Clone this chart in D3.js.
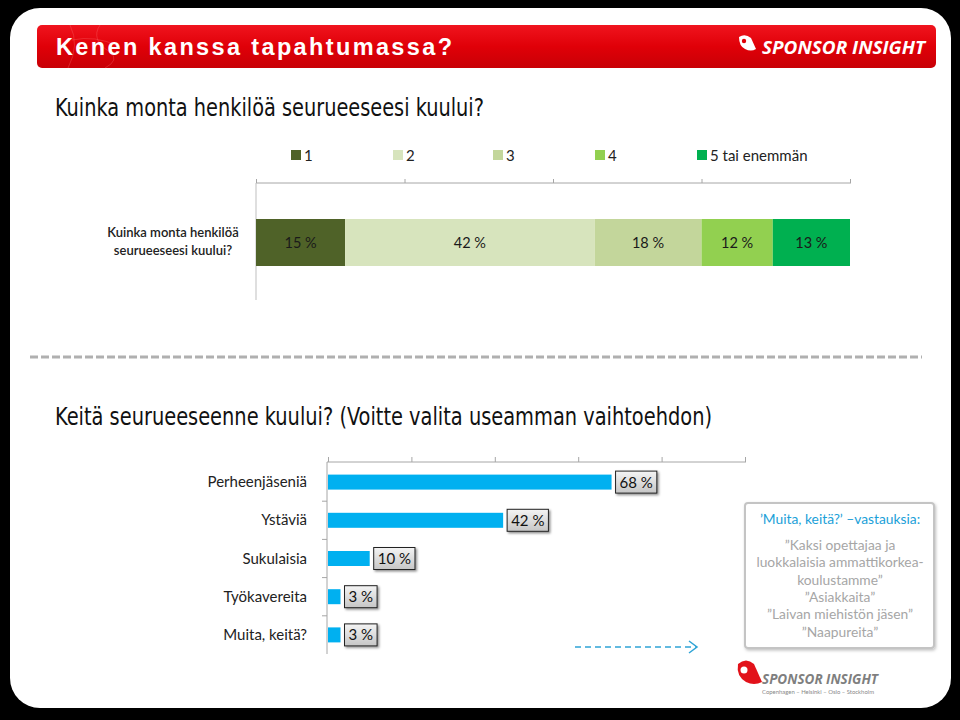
<!DOCTYPE html>
<html>
<head>
<meta charset="utf-8">
<script src="https://cdn.jsdelivr.net/npm/d3@7"></script>
<style>
html,body{margin:0;padding:0;background:#000;}
svg{display:block;}
</style>
</head>
<body>
<div id="chart"></div>
<script>
// ---------- DATA ----------
const pageTitle = "Kenen kanssa tapahtumassa?";
const brandName = "SPONSOR INSIGHT";
const brandCities = "Copenhagen – Helsinki – Oslo – Stockholm";

const q1Title = "Kuinka monta henkilöä seurueeseesi kuului?";
const q1RowLabel = ["Kuinka monta henkilöä", "seurueeseesi kuului?"];
const groupCategories = ["1", "2", "3", "4", "5 tai enemmän"];
const groupValues = [15, 42, 18, 12, 13];
const groupColors = ["#4f6228", "#d7e4bd", "#c3d69b", "#92d050", "#00b050"];
const groupTicks = [0, 25, 50, 75, 100];

const q2Title = "Keitä seurueeseenne kuului? (Voitte valita useamman vaihtoehdon)";
const companyCategories = ["Perheenjäseniä", "Ystäviä", "Sukulaisia", "Työkavereita", "Muita, keitä?"];
const companyValues = [68, 42, 10, 3, 3];
const companyTicks = [0, 20, 40, 60, 80, 100];

const otherTitle = "’Muita, keitä?’ –vastauksia:";
const otherAnswers = ["”Kaksi opettajaa ja", "luokkalaisia ammattikorkea-", "koulustamme”", "”Asiakkaita”", "”Laivan miehistön jäsen”", "”Naapureita”"];

// ---------- SETUP ----------
const W = 960, H = 720;
const svg = d3.select("#chart").append("svg").attr("width", W).attr("height", H);
const defs = svg.append("defs");
const bodyFont = "Lato, 'Open Sans', sans-serif";
const narrowFont = "'Liberation Sans Narrow', 'DejaVu Sans Condensed', 'Liberation Sans', sans-serif";

const redGrad = defs.append("linearGradient").attr("id", "redGrad").attr("x1", 0).attr("y1", 0).attr("x2", 0).attr("y2", 1);
redGrad.append("stop").attr("offset", 0).attr("stop-color", "#f0141e");
redGrad.append("stop").attr("offset", 0.5).attr("stop-color", "#e00008");
redGrad.append("stop").attr("offset", 1).attr("stop-color", "#c80006");

const boxGrad = defs.append("linearGradient").attr("id", "boxGrad").attr("x1", 0).attr("y1", 0).attr("x2", 0).attr("y2", 1);
boxGrad.append("stop").attr("offset", 0).attr("stop-color", "#f4f4f4");
boxGrad.append("stop").attr("offset", 1).attr("stop-color", "#c6c6c6");

const shadow = defs.append("filter").attr("id", "shadow").attr("x", "-20%").attr("y", "-20%").attr("width", "150%").attr("height", "160%");
shadow.append("feDropShadow").attr("dx", 1.5).attr("dy", 1.5).attr("stdDeviation", 1.2).attr("flood-color", "#000").attr("flood-opacity", 0.45);

const softShadow = defs.append("filter").attr("id", "softShadow").attr("x", "-10%").attr("y", "-10%").attr("width", "120%").attr("height", "120%");
softShadow.append("feDropShadow").attr("dx", 1).attr("dy", 1.5).attr("stdDeviation", 1.5).attr("flood-color", "#000").attr("flood-opacity", 0.25);

// background
svg.append("rect").attr("width", W).attr("height", H).attr("fill", "#000");
svg.append("rect").attr("x", 10).attr("y", 8).attr("width", 941).attr("height", 700).attr("rx", 30).attr("ry", 30).attr("fill", "#fff");

// ---------- HEADER ----------
svg.append("rect").attr("x", 37).attr("y", 25).attr("width", 899).attr("height", 43).attr("rx", 5)
  .attr("fill", "url(#redGrad)");
const deco = svg.append("g").attr("stroke", "#ff8080").attr("stroke-opacity", 0.35).attr("fill", "none").attr("stroke-width", 0.8);
deco.append("path").attr("d", "M70,25 Q80,45 68,68");
deco.append("path").attr("d", "M100,25 Q90,40 110,52 Q120,60 105,68");
deco.append("path").attr("d", "M72,40 Q95,35 118,46");
svg.append("text").attr("x", 56).attr("y", 55).text(pageTitle)
  .attr("font-family", "'Liberation Sans', Arial, sans-serif").attr("font-weight", "bold")
  .attr("font-size", 23.5).attr("fill", "#fff")
  .attr("textLength", 396).attr("lengthAdjust", "spacing");
// header logo
const hl = svg.append("g").attr("transform", "translate(739,35)");
hl.append("path").attr("d", "M0,2 Q6,-2 12,3 L17,14 Q12,17 6,14 Q0,11 0,2 Z").attr("fill", "#fff");
hl.append("circle").attr("cx", 5).attr("cy", 6).attr("r", 2.2).attr("fill", "#e00008");
svg.append("text").attr("x", 762).attr("y", 54).text(brandName)
  .attr("font-family", "'Open Sans', sans-serif").attr("font-weight", "bold").attr("font-style", "italic")
  .attr("font-size", 18).attr("fill", "#fff").attr("textLength", 163).attr("lengthAdjust", "spacingAndGlyphs");

// ---------- Q1 ----------
svg.append("text").attr("x", 55).attr("y", 116).text(q1Title)
  .attr("font-family", narrowFont).attr("font-size", 24).attr("fill", "#111")
  .attr("textLength", 429).attr("lengthAdjust", "spacingAndGlyphs");

const x1 = d3.scaleLinear().domain([0, 100]).range([256, 850]);
const bar1Y = 219, bar1H = 47;

// legend
const legX = [291, 393, 493, 595, 697];
const leg = svg.append("g").selectAll("g").data(groupCategories).join("g")
  .attr("transform", (d, i) => `translate(${legX[i]},150)`);
leg.append("rect").attr("width", 10).attr("height", 10).attr("fill", (d, i) => groupColors[i]);
leg.append("text").attr("x", 13).attr("y", 10.5).text(d => d)
  .attr("font-family", bodyFont).attr("font-size", 15).attr("fill", "#222");

// axis
const ax1 = svg.append("g").attr("transform", "translate(0,183)")
  .call(d3.axisTop(x1).tickValues(groupTicks).tickSize(4).tickFormat(""));
ax1.select(".domain").attr("stroke", "#a6a6a6").attr("d", "M256,0H851");
ax1.selectAll(".tick line").attr("stroke", "#a6a6a6");
svg.append("line").attr("x1", 256).attr("x2", 256).attr("y1", 183).attr("y2", 300).attr("stroke", "#bfbfbf");

// stacked bar
let cum = 0;
const stack = groupValues.map((v, i) => { const s = { i, v, x0: cum, x1: cum + v }; cum += v; return s; });
svg.append("g").selectAll("rect").data(stack).join("rect")
  .attr("x", d => x1(d.x0)).attr("y", bar1Y).attr("width", d => x1(d.x1) - x1(d.x0)).attr("height", bar1H)
  .attr("fill", d => groupColors[d.i]);
svg.append("g").selectAll("text").data(stack).join("text")
  .attr("x", d => (x1(d.x0) + x1(d.x1)) / 2).attr("y", bar1Y + bar1H / 2 + 5)
  .attr("text-anchor", "middle").text(d => d.v + " %")
  .attr("font-family", bodyFont).attr("font-size", 14.5).attr("fill", "#1a1a1a");

svg.append("g").selectAll("text").data(q1RowLabel).join("text")
  .attr("x", 173).attr("y", (d, i) => 237 + i * 18).attr("text-anchor", "middle").text(d => d)
  .attr("font-family", bodyFont).attr("font-size", 13).attr("font-weight", 600).attr("fill", "#222");

// separator
svg.append("line").attr("x1", 30).attr("x2", 922).attr("y1", 357).attr("y2", 357)
  .attr("stroke", "#b0b0b0").attr("stroke-width", 3).attr("stroke-dasharray", "8,3");

// ---------- Q2 ----------
svg.append("text").attr("x", 55).attr("y", 425).text(q2Title)
  .attr("font-family", narrowFont).attr("font-size", 24).attr("fill", "#111")
  .attr("textLength", 657).attr("lengthAdjust", "spacingAndGlyphs");

const x2 = d3.scaleLinear().domain([0, 100]).range([328, 745]);
const y2 = d3.scaleBand().domain(companyCategories).range([463, 654]);
const barH = 15;

const ax2 = svg.append("g").attr("transform", "translate(0,462)")
  .call(d3.axisTop(x2).tickValues(companyTicks).tickSize(5).tickFormat(""));
ax2.select(".domain").attr("stroke", "#a6a6a6").attr("d", "M327,0H746");
ax2.selectAll(".tick line").attr("stroke", "#a6a6a6");

svg.append("line").attr("x1", 327).attr("x2", 327).attr("y1", 462).attr("y2", 654).attr("stroke", "#a6a6a6");
svg.append("g").selectAll("line").data(companyCategories.slice(0, -1)).join("line")
  .attr("x1", 322).attr("x2", 327).attr("y1", d => y2(d) + y2.step()).attr("y2", d => y2(d) + y2.step())
  .attr("stroke", "#a6a6a6");

svg.append("g").selectAll("text").data(companyCategories).join("text")
  .attr("x", 307).attr("y", d => y2(d) + y2.bandwidth() / 2 + 5).attr("text-anchor", "end").text(d => d)
  .attr("font-family", bodyFont).attr("font-size", 15).attr("fill", "#222");

svg.append("g").selectAll("rect").data(companyValues).join("rect")
  .attr("x", x2(0)).attr("y", (d, i) => y2(companyCategories[i]) + y2.bandwidth() / 2 - barH / 2)
  .attr("width", d => x2(d) - x2(0)).attr("height", barH).attr("fill", "#00b0f0");

const lbl = svg.append("g").selectAll("g").data(companyValues).join("g")
  .attr("transform", (d, i) => `translate(${x2(d) + 4},${y2(companyCategories[i]) + y2.bandwidth() / 2})`);
lbl.each(function (d) {
  const g = d3.select(this);
  const t = g.append("text").attr("x", 4).attr("y", 5.5).text(d + " %")
    .attr("font-family", bodyFont).attr("font-size", 15).attr("fill", "#111");
  const w = t.node().getComputedTextLength() + 8;
  g.insert("rect", "text").attr("x", 0).attr("y", -11).attr("width", w).attr("height", 22)
    .attr("fill", "url(#boxGrad)").attr("stroke", "#222").attr("stroke-width", 1).attr("filter", "url(#shadow)");
});

// dashed arrow
svg.append("line").attr("x1", 575).attr("x2", 696).attr("y1", 647).attr("y2", 647)
  .attr("stroke", "#2fa4d6").attr("stroke-width", 1.5).attr("stroke-dasharray", "6,4");
svg.append("path").attr("d", "M689,641 L697,647 L689,653").attr("fill", "none")
  .attr("stroke", "#2fa4d6").attr("stroke-width", 1.5);

// other answers box
svg.append("rect").attr("x", 745).attr("y", 503).attr("width", 189).attr("height", 145).attr("rx", 3)
  .attr("fill", "#fff").attr("stroke", "#c4c4c4").attr("stroke-width", 2).attr("filter", "url(#softShadow)");
svg.append("text").attr("x", 840).attr("y", 524).attr("text-anchor", "middle").text(otherTitle)
  .attr("font-family", bodyFont).attr("font-size", 13.8).attr("fill", "#1aa0d8");
svg.append("g").selectAll("text").data(otherAnswers).join("text")
  .attr("x", 840).attr("y", (d, i) => 550 + i * 17.3).attr("text-anchor", "middle").text(d => d)
  .attr("font-family", bodyFont).attr("font-size", 13.8).attr("fill", "#a6a6a6");

// bottom logo
const bl = svg.append("g").attr("transform", "translate(736,660)");
bl.append("path").attr("d", "M2,4 Q10,-3 18,4 L26,22 Q18,26 10,22 Q0,16 2,4 Z").attr("fill", "#e2121a");
bl.append("circle").attr("cx", 8).attr("cy", 10).attr("r", 3.5).attr("fill", "#fff");
svg.append("text").attr("x", 762).attr("y", 684).text(brandName)
  .attr("font-family", "'Open Sans', sans-serif").attr("font-weight", "bold").attr("font-style", "italic")
  .attr("font-size", 15).attr("fill", "#7f7f7f").attr("textLength", 116).attr("lengthAdjust", "spacingAndGlyphs");
svg.append("text").attr("x", 762).attr("y", 694).text(brandCities)
  .attr("font-family", bodyFont).attr("font-size", 5.5).attr("fill", "#888")
  .attr("textLength", 112).attr("lengthAdjust", "spacingAndGlyphs");
</script>
</body>
</html>
